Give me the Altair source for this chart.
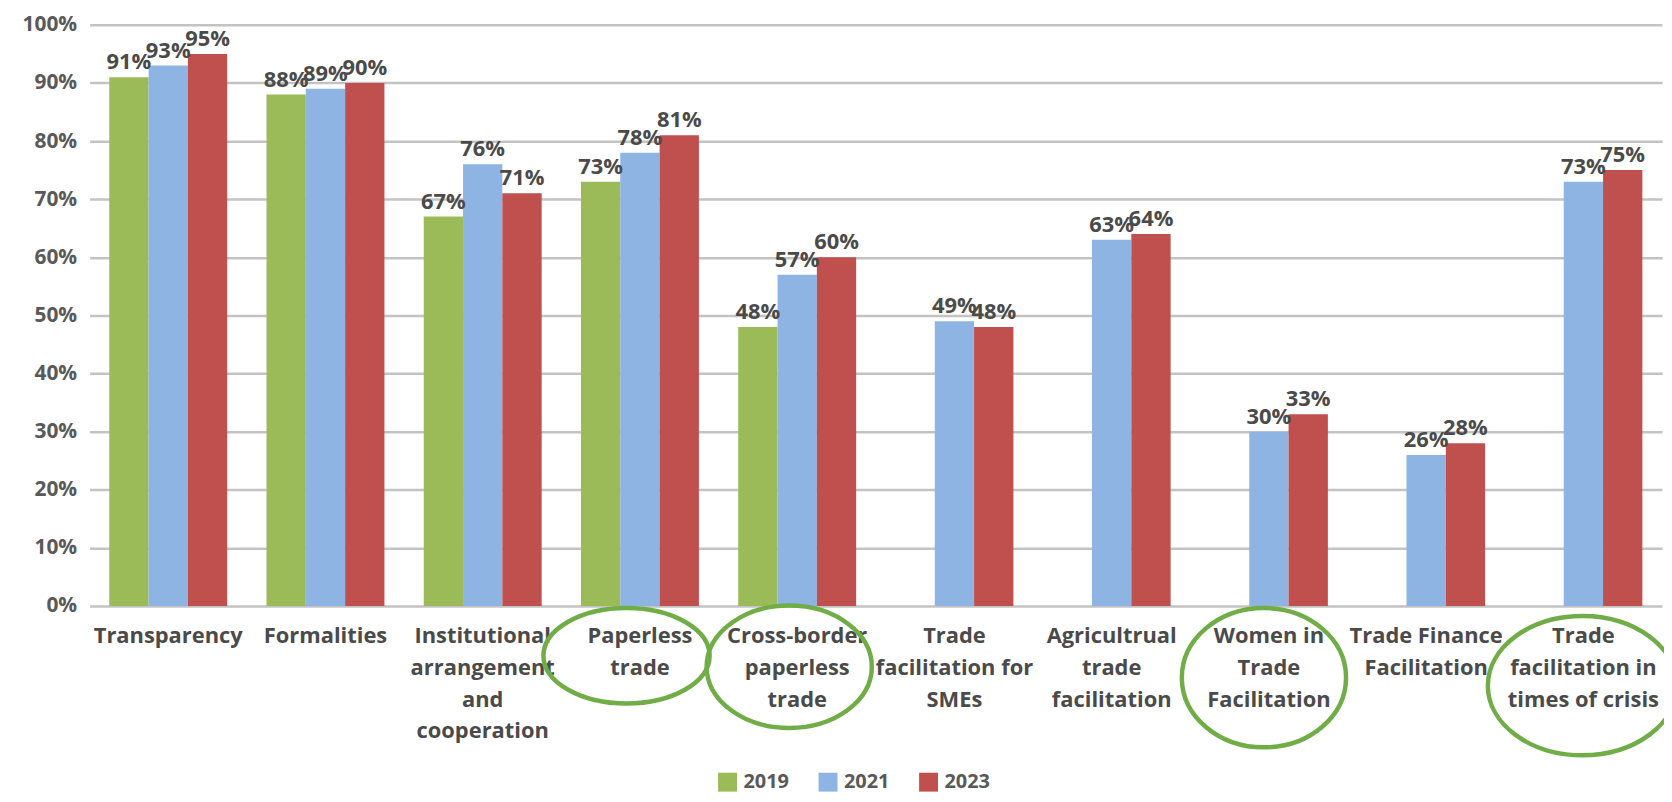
import altair as alt
import pandas as pd

# ---- data -------------------------------------------------------------
categories = [
    "Transparency",
    "Formalities",
    "Institutional arrangement and cooperation",
    "Paperless trade",
    "Cross-border paperless trade",
    "Trade facilitation for SMEs",
    "Agricultrual trade facilitation",
    "Women in Trade Facilitation",
    "Trade Finance Facilitation",
    "Trade facilitation in times of crisis",
]
category_labels = [
    "Transparency",
    "Formalities",
    "Institutional\narrangement\nand\ncooperation",
    "Paperless\ntrade",
    "Cross-border\npaperless\ntrade",
    "Trade\nfacilitation for\nSMEs",
    "Agricultrual\ntrade\nfacilitation",
    "Women in\nTrade\nFacilitation",
    "Trade Finance\nFacilitation",
    "Trade\nfacilitation in\ntimes of crisis",
]
years = ["2019", "2021", "2023"]
values_2019 = [0.91, 0.88, 0.67, 0.73, 0.48, None, None, None, None, None]
values_2021 = [0.93, 0.89, 0.76, 0.78, 0.57, 0.49, 0.63, 0.30, 0.26, 0.73]
values_2023 = [0.95, 0.90, 0.71, 0.81, 0.60, 0.48, 0.64, 0.33, 0.28, 0.75]
year_colors = ["#9BBB59", "#8EB4E3", "#C0504D"]

# highlighted (circled) categories
circled = [
    "Paperless trade",
    "Cross-border paperless trade",
    "Women in Trade Facilitation",
    "Trade facilitation in times of crisis",
]
ellipse_dx = [-13.5, -8, -5, -1]
ellipse_cy = [634, 645, 656, 664]
ellipse_rx = [83.5, 83, 82.5, 95]
ellipse_ry = [48, 61.5, 70, 70]

# ---- tables -------------------------------------------------------------
rows = []
for yr, vals in zip(years, [values_2019, values_2021, values_2023]):
    for c, v in zip(categories, vals):
        if v is not None:
            rows.append({"category": c, "year": yr, "value": v})
bars_df = pd.DataFrame(rows)

labels_df = pd.DataFrame({"category": categories, "label": category_labels})

paths = []
for dx, cy, rx, ry in zip(ellipse_dx, ellipse_cy, ellipse_rx, ellipse_ry):
    paths.append(
        f"M {dx - rx} {cy} A {rx} {ry} 0 1 0 {dx + rx} {cy} "
        f"A {rx} {ry} 0 1 0 {dx - rx} {cy} Z"
    )
ell_df = pd.DataFrame({"category": circled, "path": paths})

FONT = "Open Sans"
TXT = "#4a4a4a"

x_enc = alt.X(
    "category:N",
    sort=categories,
    scale=alt.Scale(domain=categories, paddingInner=0.25, paddingOuter=0.125),
    axis=None,
)

bars = alt.Chart(bars_df).mark_bar().encode(
    x=x_enc,
    xOffset=alt.XOffset("year:N", scale=alt.Scale(domain=years)),
    y=alt.Y(
        "value:Q",
        scale=alt.Scale(domain=[0, 1]),
        axis=alt.Axis(
            values=[i / 10 for i in range(11)],
            format=".0%",
            title=None,
            domain=False,
            ticks=False,
            tickSize=0,
            labelPadding=13,
            labelFont=FONT,
            labelFontSize=21,
            labelFontWeight="bold",
            labelColor="#595959",
            grid=True,
            gridColor="#c3c3c3",
            gridWidth=2.5,
        ),
    ),
    color=alt.Color(
        "year:N",
        scale=alt.Scale(domain=years, range=year_colors),
        legend=alt.Legend(
            title=None,
            orient="none",
            direction="horizontal",
            legendX=631,
            legendY=751,
            symbolType="square",
            symbolSize=361,
            symbolStrokeWidth=0,
            labelFont=FONT,
            labelFontSize=20,
            labelFontWeight="bold",
            labelColor="#595959",
            labelOffset=6,
            columnPadding=29,
        ),
    ),
)

value_text = alt.Chart(bars_df).mark_text(
    baseline="bottom", dy=-3, font=FONT, fontSize=22, fontWeight="bold", color=TXT
).encode(
    x=x_enc,
    xOffset=alt.XOffset("year:N", scale=alt.Scale(domain=years)),
    y=alt.Y("value:Q"),
    text=alt.Text("value:Q", format=".0%"),
)

cat_text = alt.Chart(labels_df).mark_text(
    baseline="top",
    align="center",
    lineBreak="\n",
    lineHeight=32,
    font=FONT,
    fontSize=22,
    fontWeight="bold",
    color=TXT,
).encode(
    x=x_enc,
    y=alt.value(604),
    text="label:N",
)

ellipses = alt.Chart(ell_df).mark_point(
    filled=False, color="#70AD47", strokeWidth=4.5, opacity=1
).encode(
    x=x_enc,
    y=alt.value(0),
    shape=alt.Shape("path:N", scale=None),
    size=alt.value(4),
)

chart = (
    alt.layer(bars, value_text, cat_text, ellipses)
    .properties(
        width=1580,
        height=584,
        autosize=alt.AutoSizeParams(type="none"),
        padding={"left": 82, "top": 15, "right": 2, "bottom": 190},
        background="white",
    )
    .configure_view(stroke=None)
)

chart.save("out.html", embed_options={"renderer": "svg", "actions": False})
